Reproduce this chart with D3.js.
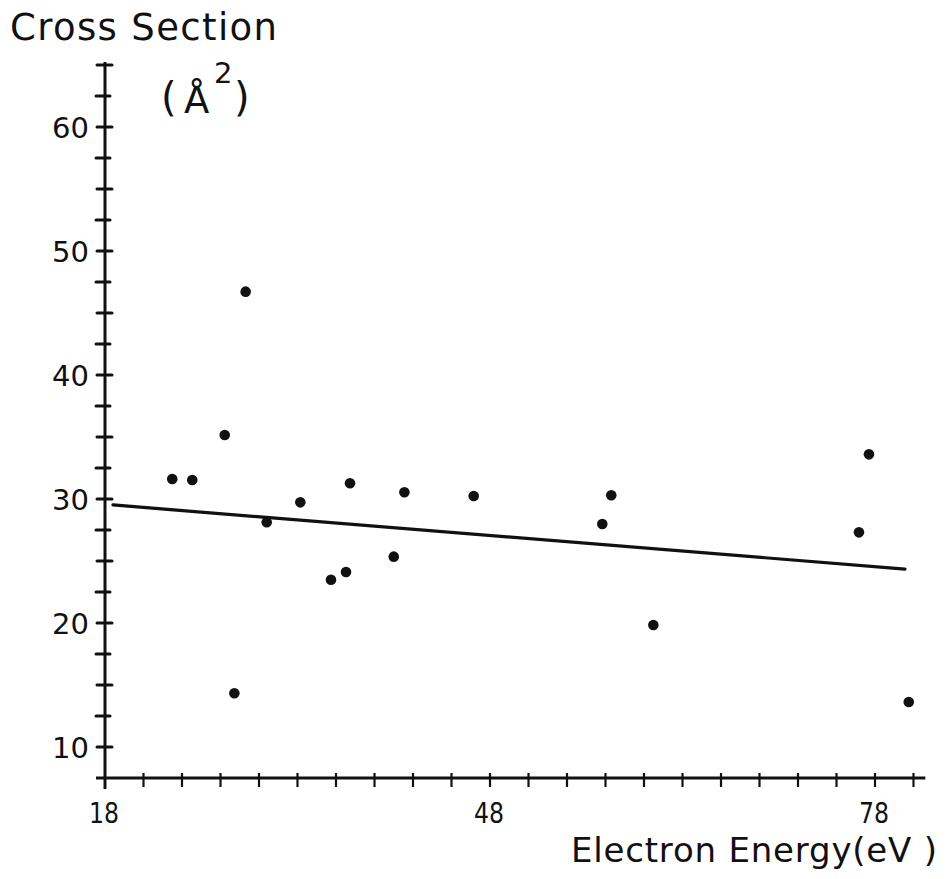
<!DOCTYPE html>
<html>
<head>
<meta charset="utf-8">
<script src="https://cdn.jsdelivr.net/npm/d3@7"></script>
<style>
  html, body { margin: 0; padding: 0; background: #fff; }
  svg { display: block; }
  text { font-family: "DejaVu Sans", "Liberation Sans", sans-serif; fill: #111; }
</style>
</head>
<body>
<script>
// ---- data ----
const energy = [23.24, 24.80, 27.33, 28.08, 28.96, 30.6, 33.22, 35.61, 36.78, 37.09, 40.5, 41.33, 46.73, 56.75, 57.45, 60.73, 76.75, 77.53, 80.63];
const crossSection = [31.61, 31.53, 35.16, 14.33, 46.72, 28.12, 29.73, 23.49, 24.11, 31.27, 25.35, 30.54, 30.24, 27.98, 30.3, 19.84, 27.31, 33.6, 13.63];
const fitX = [18.62, 80.34];
const fitY = [29.52, 24.35];
const xTickValues = d3.range(18, 82, 3);
const xLabelValues = [18, 48, 78];
const yTickValues = d3.range(10, 65.1, 2.5);
const yLabelValues = [10, 20, 30, 40, 50, 60];

const W = 950, H = 879;
const svg = d3.select("body").append("svg").attr("width", W).attr("height", H);

const x = d3.scaleLinear().domain([18, 78]).range([105, 875]);
const y = d3.scaleLinear().domain([7.5, 65]).range([778, 65]);

const ink = "#111";

// y axis line
svg.append("line")
  .attr("x1", x(18)).attr("x2", x(18))
  .attr("y1", y(65) - 3).attr("y2", y(7.5) + 11)
  .attr("stroke", ink).attr("stroke-width", 3);

// x axis line
svg.append("line")
  .attr("x1", x(18) - 9).attr("x2", x(82) - 1)
  .attr("y1", y(7.5)).attr("y2", y(7.5))
  .attr("stroke", ink).attr("stroke-width", 3.2);

// y ticks
svg.append("g").selectAll("line").data(yTickValues).join("line")
  .attr("x1", (d, i) => x(18) - (i % 2 === 0 ? 8 : 9))
  .attr("x2", (d, i) => x(18) + (i % 2 === 0 ? 7 : 5))
  .attr("y1", d => y(d)).attr("y2", d => y(d))
  .attr("stroke", ink).attr("stroke-width", 3).attr("stroke-linecap", "round");

// x ticks
svg.append("g").selectAll("line").data(xTickValues.filter(d => d > 18)).join("line")
  .attr("x1", d => x(d)).attr("x2", d => x(d))
  .attr("y1", y(7.5) - 5).attr("y2", y(7.5) + 9)
  .attr("stroke", ink).attr("stroke-width", 2.2);

// y labels
svg.append("g").selectAll("text").data(yLabelValues).join("text")
  .attr("x", 89).attr("y", d => y(d) + 11)
  .attr("text-anchor", "end")
  .attr("font-size", 29)
  .attr("textLength", 37).attr("lengthAdjust", "spacing")
  .text(d => d);

// x labels
svg.append("g").selectAll("text").data(xLabelValues).join("text")
  .attr("x", d => x(d) - 1).attr("y", y(7.5) + 45)
  .attr("text-anchor", "middle")
  .attr("font-size", 29)
  .attr("textLength", 30).attr("lengthAdjust", "spacingAndGlyphs")
  .text(d => d);

// fit line
svg.append("path")
  .datum(fitX.map((d, i) => [d, fitY[i]]))
  .attr("d", d3.line().x(d => x(d[0])).y(d => y(d[1])))
  .attr("stroke", ink).attr("stroke-width", 3.2).attr("fill", "none")
  .attr("stroke-linecap", "round");

// points
svg.append("g").selectAll("circle").data(energy).join("circle")
  .attr("cx", d => x(d))
  .attr("cy", (d, i) => y(crossSection[i]))
  .attr("r", 5.3)
  .attr("fill", ink);

// titles
svg.append("text").attr("x", 10).attr("y", 40)
  .attr("font-size", 37)
  .attr("textLength", 267).attr("lengthAdjust", "spacing")
  .text("Cross Section");

const unit = svg.append("g");
unit.append("text").attr("x", 161).attr("y", 111).attr("font-size", 40).text("(");
unit.append("text").attr("x", 184).attr("y", 113).attr("font-size", 37).text("Å");
unit.append("text").attr("x", 214).attr("y", 83).attr("font-size", 29).text("2");
unit.append("text").attr("x", 234).attr("y", 111).attr("font-size", 40).text(")");

svg.append("text").attr("x", 571).attr("y", 862)
  .attr("font-size", 34)
  .attr("textLength", 366).attr("lengthAdjust", "spacing")
  .text("Electron Energy(eV )");
</script>
</body>
</html>
